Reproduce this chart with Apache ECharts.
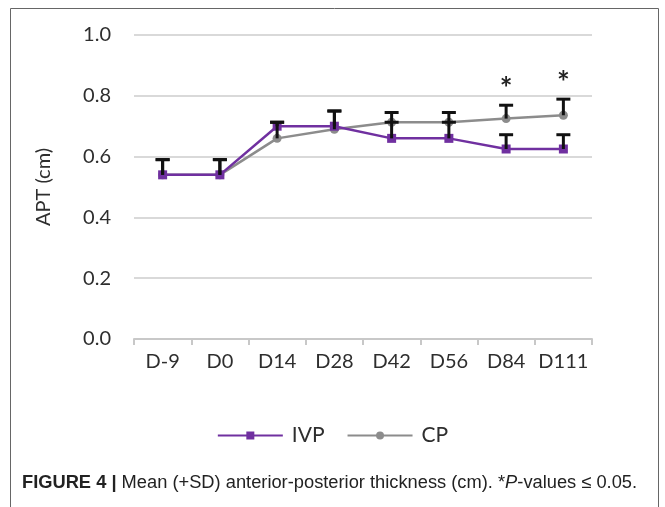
<!DOCTYPE html>
<html>
<head>
<meta charset="utf-8">
<script src="https://cdn.jsdelivr.net/npm/echarts@6/dist/echarts.min.js"></script>
<style>
  html, body { margin: 0; padding: 0; background: #fff; }
  #chart { width: 665px; height: 507px; }
</style>
</head>
<body>
<div id="chart"></div>
<script>
// Sampling days
const days = ['D-9', 'D0', 'D14', 'D28', 'D42', 'D56', 'D84', 'D111'];

// Mean anterior-posterior thickness (cm) and SD per group
const ivpMean = [0.54, 0.54, 0.70, 0.70, 0.66, 0.66, 0.625, 0.625];
const ivpSD   = [0.05, 0.05, 0.013, 0.05, 0.053, 0.053, 0.047, 0.047];
const cpMean  = [0.54, 0.54, 0.66, 0.69, 0.713, 0.713, 0.725, 0.736];
const cpSD    = [0.05, 0.05, 0.053, 0.06, 0.032, 0.032, 0.044, 0.053];

// Significance markers (P <= 0.05)
const sigMarks = ['', '', '', '', '', '', '*', '*'];

// Y-axis ticks
const yTicks = [0.0, 0.2, 0.4, 0.6, 0.8, 1.0];

const FONT = 'Lato, "Open Sans", sans-serif';
const CAPTION_FONT = '"Liberation Sans", Arial, sans-serif';
const TEXT_COLOR = '#2e2e2e';

function errorItem(means, sds) {
  return days.map((d, i) => [i, means[i], means[i] + sds[i]]);
}

function renderError(params, api) {
  const x = api.value(0);
  const lo = api.coord([x, api.value(1)]);
  const hi = api.coord([x, api.value(2)]);
  const half = 7;
  const style = { stroke: '#111', lineWidth: 3, fill: null };
  return {
    type: 'group',
    children: [
      { type: 'line', shape: { x1: lo[0], y1: lo[1], x2: hi[0], y2: hi[1] }, style: style },
      { type: 'line', shape: { x1: hi[0] - half, y1: hi[1], x2: hi[0] + half, y2: hi[1] }, style: style }
    ]
  };
}

const chart = echarts.init(document.getElementById('chart'), null, { renderer: 'canvas' });

chart.setOption({
  animation: false,
  backgroundColor: '#fff',
  grid: { left: 134, right: 73, top: 35, bottom: 168, containLabel: false },
  legend: {
    top: 420,
    left: 'center',
    itemWidth: 65,
    itemHeight: 10,
    itemGap: 22,
    data: ['IVP', 'CP'],
    textStyle: { fontFamily: FONT, fontSize: 21, color: TEXT_COLOR, padding: [0, 0, 0, 4] }
  },
  xAxis: {
    type: 'category',
    data: days,
    boundaryGap: true,
    axisLine: { lineStyle: { color: '#c8c8c8', width: 2 } },
    axisTick: { show: true, length: 6, lineStyle: { color: '#c8c8c8', width: 2 } },
    axisLabel: { fontFamily: FONT, fontSize: 20, color: TEXT_COLOR, margin: 13,
      interval: 0, hideOverlap: false },
    splitLine: { show: false }
  },
  yAxis: {
    type: 'value',
    min: yTicks[0],
    max: yTicks[yTicks.length - 1],
    interval: 0.2,
    name: 'APT (cm)',
    nameLocation: 'middle',
    nameGap: 80,
    nameTextStyle: { fontFamily: FONT, fontSize: 20, color: TEXT_COLOR },
    axisLine: { show: false },
    axisTick: { show: false },
    axisLabel: { fontFamily: FONT, fontSize: 20, color: TEXT_COLOR, margin: 23,
      formatter: v => v.toFixed(1) },
    splitLine: { lineStyle: { color: '#d9d9d9', width: 2 } }
  },
  graphic: [
    { type: 'rect', shape: { x: 10.5, y: 8.5, width: 648, height: 510 },
      style: { fill: null, stroke: '#666', lineWidth: 1 }, silent: true },
    { type: 'text', left: 22, top: 474,
      style: {
        text: '{b|FIGURE 4 |} Mean (+SD) anterior-posterior thickness (cm). *{i|P}-values \u2264 0.05.',
        font: '18.3px ' + CAPTION_FONT,
        fill: '#222',
        rich: {
          b: { fontWeight: 'bold', fontSize: 18.3, fontFamily: CAPTION_FONT, fill: '#222' },
          i: { fontStyle: 'italic', fontSize: 18.3, fontFamily: CAPTION_FONT, fill: '#222' }
        }
      } }
  ],
  series: [
    {
      name: 'IVP', type: 'line', data: ivpMean, z: 3,
      symbol: 'rect', symbolSize: 9,
      lineStyle: { color: '#7030a0', width: 2.5 },
      itemStyle: { color: '#7030a0' }
    },
    {
      name: 'CP', type: 'line', data: cpMean, z: 2,
      symbol: 'circle', symbolSize: 9,
      lineStyle: { color: '#8c8c8c', width: 2.5 },
      itemStyle: { color: '#8c8c8c' }
    },
    {
      type: 'custom', name: 'IVP SD', data: errorItem(ivpMean, ivpSD), z: 4,
      renderItem: renderError, encode: { x: 0, y: [1, 2] }
    },
    {
      type: 'custom', name: 'CP SD', data: errorItem(cpMean, cpSD), z: 4,
      renderItem: renderError, encode: { x: 0, y: [1, 2] }
    },
    {
      type: 'custom', name: 'sig', z: 5,
      data: days.map((d, i) => [i, Math.max(ivpMean[i] + ivpSD[i], cpMean[i] + cpSD[i])]),
      encode: { x: 0, y: 1 },
      renderItem: function (params, api) {
        const i = api.value(0);
        const mark = sigMarks[i];
        if (!mark) return null;
        const p = api.coord([i, api.value(1)]);
        return {
          type: 'text',
          style: { text: mark, x: p[0], y: p[1] - 16, align: 'center', verticalAlign: 'middle',
                   font: 'bold 30px ' + FONT, fill: '#222' }
        };
      }
    }
  ]
});
</script>
</body>
</html>
